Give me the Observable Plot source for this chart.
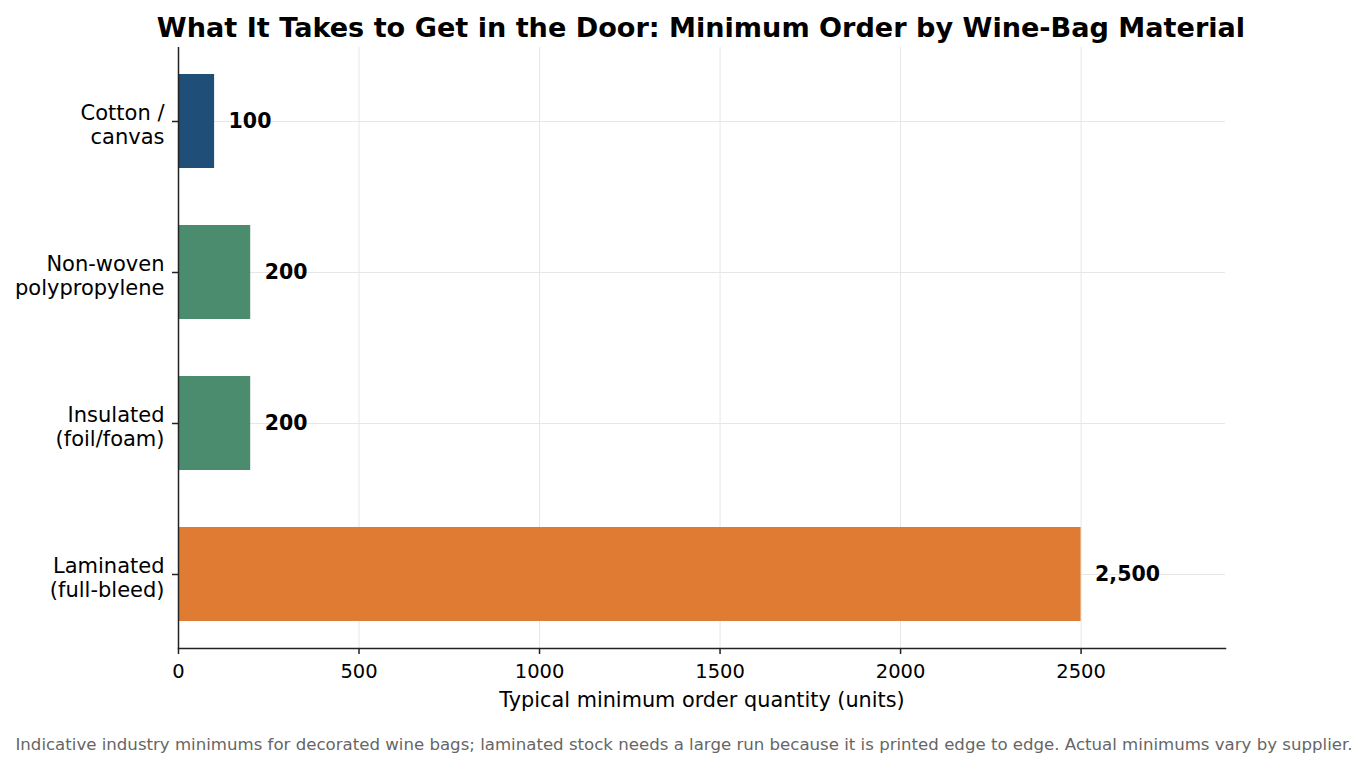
<!DOCTYPE html>
<html>
<head>
<meta charset="utf-8">
<script src="https://cdn.jsdelivr.net/npm/d3@7"></script>
<script src="https://cdn.jsdelivr.net/npm/@observablehq/plot@0.6"></script>
<style>
  html, body { margin: 0; padding: 0; background: #ffffff; }
  body { width: 1368px; height: 768px; overflow: hidden; font-family: "DejaVu Sans", sans-serif; }
  #title {
    box-sizing: border-box; height: 47px; padding-top: 14px; padding-left: 34px;
    font-size: 27.1px; line-height: 27px; font-weight: bold; text-align: center;
    white-space: nowrap; color: #000;
  }
  #caption {
    margin-top: 16px; font-size: 16.6px; line-height: 17px; color: #666666;
    text-align: center; white-space: nowrap;
  }
  #chart svg { display: block; }
</style>
</head>
<body>
<div id="title">What It Takes to Get in the Door: Minimum Order by Wine-Bag Material</div>
<div id="chart"></div>
<div id="caption">Indicative industry minimums for decorated wine bags; laminated stock needs a large run because it is printed edge to edge. Actual minimums vary by supplier.</div>
<script>
const categories = ["Cotton /\ncanvas", "Non-woven\npolypropylene", "Insulated\n(foil/foam)", "Laminated\n(full-bleed)"];
const minimums = [100, 200, 200, 2500];
const barColors = ["#1f4e79", "#4c8c6e", "#4c8c6e", "#e07b34"];
const xTicks = [0, 500, 1000, 1500, 2000, 2500];
const xLabel = "Typical minimum order quantity (units)";

const data = categories.map((c, i) => ({category: c, value: minimums[i], color: barColors[i]}));

const chart = Plot.plot({
  width: 1368,
  height: 673,
  marginTop: 0,
  marginLeft: 178,
  marginRight: 143,
  marginBottom: 72,
  style: {fontFamily: "DejaVu Sans", background: "white", color: "#000", overflow: "visible"},
  x: {domain: [0, 2900], label: null},
  y: {domain: categories, paddingInner: 0.38, paddingOuter: 0.18, label: null},
  color: {type: "identity"},
  marks: [
    Plot.gridX(xTicks, {stroke: "#e6e6e6", strokeOpacity: 1, strokeWidth: 1}),
    Plot.gridY(categories, {stroke: "#e6e6e6", strokeOpacity: 1, strokeWidth: 1}),
    Plot.barX(data, {x: "value", y: "category", fill: "color"}),
    Plot.text(data, {x: "value", y: "category", text: d => d3.format(",")(d.value), dx: 14, textAnchor: "start", fontWeight: "bold", fontSize: 20.5, fill: "#000"}),
    Plot.axisX({ticks: xTicks, tickFormat: d => String(d), tickSize: 6, tickPadding: 10, fontSize: 19.5, label: null, stroke: "#222", strokeWidth: 1.5, fill: "#000"}),
    Plot.axisY({tickSize: 6, fill: "none", label: null, stroke: "#222", strokeWidth: 1.5}),
    Plot.axisY({tickSize: 0, tickPadding: 14, dy: 3, fontSize: 21, lineHeight: 1.15, label: null, fill: "#000"}),
    Plot.ruleX([0], {stroke: "#222", strokeWidth: 1.5}),
    Plot.frame({anchor: "bottom", stroke: "#222", strokeWidth: 1.5}),
    Plot.text([xLabel], {frameAnchor: "bottom", dy: 52, text: d => d, fontSize: 20.8, lineAnchor: "middle", fill: "#000"})
  ]
});
document.getElementById("chart").appendChild(chart);
</script>
</body>
</html>
